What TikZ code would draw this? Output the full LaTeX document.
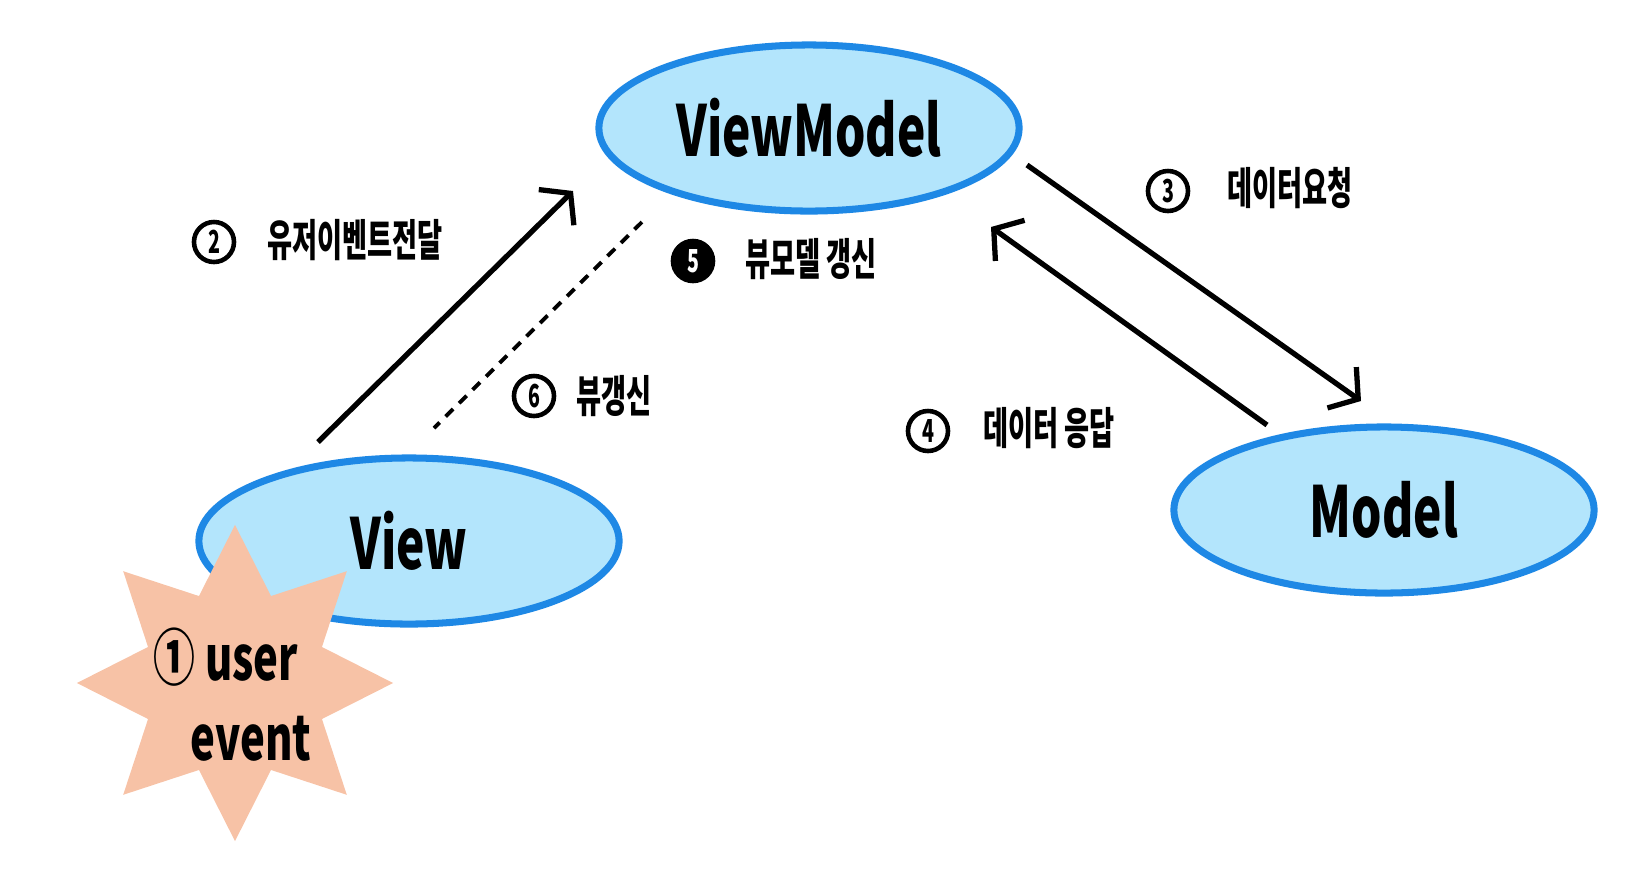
\documentclass[tikz,border=0pt]{standalone}
\usepackage{fontspec}
\newfontfamily\krfont[FakeStretch=0.62]{Noto Sans CJK KR}
\newfontfamily\hand[FakeStretch=0.68]{Noto Sans CJK KR}
\usetikzlibrary{shapes.geometric,arrows.meta}
\definecolor{bubble}{RGB}{179,229,252}
\definecolor{rim}{RGB}{30,136,229}
\definecolor{burst}{RGB}{247,194,166}

\begin{document}
\begin{tikzpicture}[x=0.01cm,y=-0.01cm,
		layer/.style={ellipse, draw=rim, fill=bubble, line width=2pt, minimum width=4.2cm, minimum height=1.66cm, font=\hand\bfseries\fontsize{20}{24}\selectfont},
		num/.style={circle, draw, line width=1.3pt, minimum size=0.4cm, inner sep=0pt, font=\krfont\bfseries\fontsize{9}{10}\selectfont},
		numdark/.style={num, fill=black, text=white},
		note/.style={font=\krfont\bfseries\fontsize{12.5}{14}\selectfont, inner sep=0pt},
		flow/.style={line width=1.5pt, -{Straight Barb[length=2mm,width=5mm]}}]
		\useasboundingbox (0,0) rectangle (1635,893);
		% the three layers
		\node[layer] (vm) at (809,128) {ViewModel};
		\node[layer] (view) at (409,541) {View};
		\node[layer] (model) at (1384,510) {Model};
		% user event burst
		\node[star, star points=8, star point ratio=1.68, minimum size=3.16cm, inner sep=0pt, fill=burst] (ev) at (235,683) {};
		\node[font=\hand\bfseries\fontsize{17.5}{22.7}\selectfont, align=left, anchor=west, inner sep=0pt] (evtxt) at (153,695) {① user\\\hspace{0.37cm}event};
		% connectors
		\coordinate (a2s) at (318,442); \coordinate (a2e) at (573,191);
		\coordinate (d6s) at (642,222); \coordinate (d6e) at (434,428);
		\coordinate (a3s) at (1027,165); \coordinate (a3e) at (1361,401);
		\coordinate (a4s) at (1267,425); \coordinate (a4e) at (991,227);
		\draw[flow] (a2s) -- (a2e);
		\draw[line width=1.1pt, dash pattern=on 3pt off 2.4pt] (d6s) -- (d6e);
		\draw[flow] (a3s) -- (a3e);
		\draw[flow] (a4s) -- (a4e);
		% step labels
		\foreach \n/\s/\cx/\cy/\t/\tx/\ty in {%
			2/num/214/242/유저이벤트전달/355/240,%
			3/num/1168/191/데이터요청/1290/188,%
			4/num/928/431/데이터 응답/1049/428,%
			5/numdark/693/261/뷰모델 갱신/811/259,%
			6/num/534/396/뷰갱신/614/396%
		}{
			\node[\s] (n\n) at (\cx,\cy) {\n};
			\node[note] (t\n) at (\tx,\ty) {\t};
		}
	\end{tikzpicture}
\end{document}
